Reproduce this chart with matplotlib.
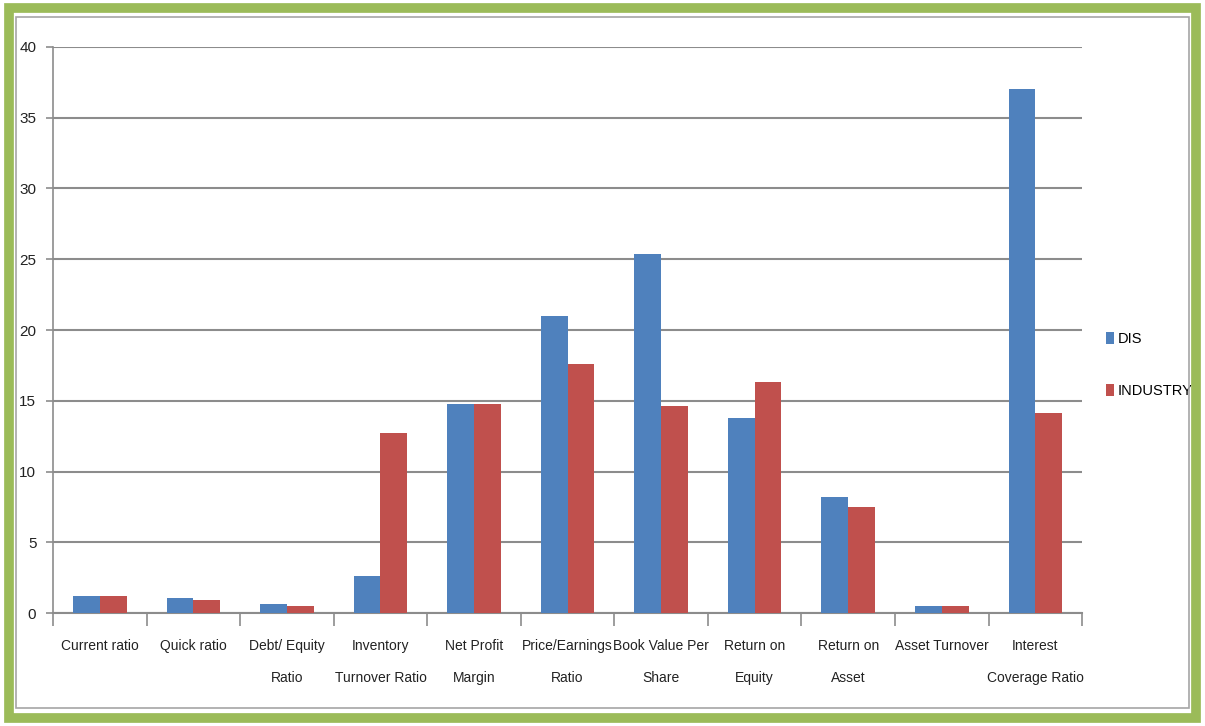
import matplotlib.pyplot as plt
from matplotlib.patches import Rectangle
import numpy as np

plt.rcParams['font.family'] = ['Liberation Sans Narrow', 'DejaVu Sans Condensed', 'Liberation Sans', 'DejaVu Sans']

categories = ["Current ratio", "Quick ratio", "Debt/ Equity\nRatio", "Inventory\nTurnover Ratio",
              "Net Profit\nMargin", "Price/Earnings\nRatio", "Book Value Per\nShare", "Return on\nEquity",
              "Return on\nAsset", "Asset Turnover", "Interest\nCoverage Ratio"]
dis = [1.2, 1.05, 0.65, 2.6, 14.75, 21.0, 25.4, 13.8, 8.2, 0.5, 37.0]
industry = [1.2, 0.92, 0.52, 12.7, 14.75, 17.6, 14.65, 16.3, 7.5, 0.5, 14.1]

fig = plt.figure(figsize=(12.05, 7.26), dpi=100)

# green frame and inner chart border
fig.patches.append(Rectangle((0.0075, 0.0115), 0.985, 0.9775, transform=fig.transFigure,
                             fill=False, edgecolor='#9BBB59', linewidth=7))
fig.patches.append(Rectangle((0.0135, 0.025), 0.973, 0.951, transform=fig.transFigure,
                             fill=False, edgecolor='#A6A6A6', linewidth=1.2))

ax = fig.add_axes([0.044, 0.1556, 0.854, 0.7797])
x = np.arange(len(categories))
w = 0.286
ax.bar(x - w / 2, dis, w, color='#4F81BD', label='DIS', zorder=3)
ax.bar(x + w / 2, industry, w, color='#C0504D', label='INDUSTRY', zorder=3)

ax.set_xlim(-0.5, len(categories) - 0.5)
ax.set_ylim(0, 40)
ax.set_yticks(range(0, 41, 5))
ax.yaxis.grid(True, color='#8C8C8C', linewidth=1.5, zorder=0)
ax.set_axisbelow(True)

ax.set_xticks(x)
ax.set_xticklabels(categories, fontsize=10, linespacing=2.6, color='#222222')
ax.tick_params(axis='x', length=0, pad=19)
ax.set_xticks(np.arange(-0.5, len(categories)), minor=True)
ax.tick_params(axis='x', which='minor', length=9, color='#8C8C8C', width=1.2)
ax.tick_params(axis='y', length=5, color='#8C8C8C', width=1.2, labelsize=11, labelcolor='#222222', pad=7)

for s in ['top', 'right']:
    ax.spines[s].set_visible(False)
ax.spines['left'].set_color('#8C8C8C')
ax.spines['bottom'].set_color('#8C8C8C')
ax.spines['left'].set_linewidth(1.2)
ax.spines['bottom'].set_linewidth(1.5)

ax.legend(loc='center left', bbox_to_anchor=(1.01, 0.438), frameon=False, fontsize=10.5,
          handlelength=0.55, handleheight=0.9, handletextpad=0.3, labelspacing=2.6)

plt.savefig('out.png', dpi=100)
